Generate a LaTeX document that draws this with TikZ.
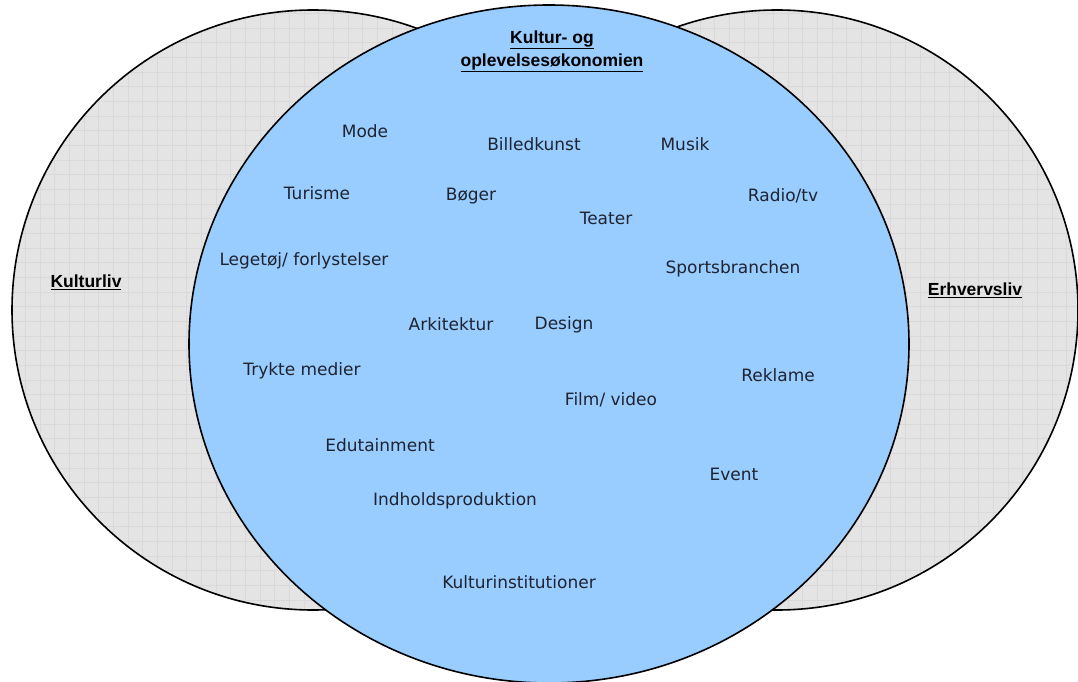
\documentclass[tikz,border=0pt]{standalone}
\usepackage{fontspec}
\setmainfont{DejaVu Sans}
\newfontfamily\headfont{Liberation Sans}
\definecolor{sidegray}{HTML}{E4E4E4}
\definecolor{gridgray}{HTML}{D9D9D9}
\definecolor{coreblue}{HTML}{99CCFF}
\definecolor{labelink}{HTML}{1E2430}
\tikzset{
  item/.style={text=labelink,inner sep=0pt,font=\fontsize{17}{20}\selectfont},
  heading/.style={text=black,inner sep=0pt,align=center,font=\headfont\bfseries\fontsize{17.5}{23}\selectfont},
  rim/.style={draw=black,line width=1.6pt}
}
\begin{document}
\begin{tikzpicture}[x=1pt,y=-1pt]
\useasboundingbox (0,0) rectangle (1078,682);
\foreach \cx in {313,777}
{ \begin{scope}
  \clip (\cx,310) ellipse [x radius=301,y radius=300];
  \fill[sidegray] (0,0) rectangle (1078,682);
  \foreach \i in {-6,...,68} \draw[gridgray,line width=0.9pt] ({84+14.67*\i},0)--++(0,682);
  \foreach \i in {-3,...,44} \draw[gridgray,line width=0.9pt] (0,{42.7+14.67*\i})--++(1078,0);
  \end{scope}
  \draw[rim] (\cx,310) ellipse [x radius=301,y radius=300];
}
\draw[rim,fill=coreblue] (549,344) ellipse [x radius=360,y radius=339];
\node[heading] (kulturliv) at (86,282) {\underline{Kulturliv}};
\node[heading] (erhvervsliv) at (975,290) {\underline{Erhvervsliv}};
\node[heading] (oplevelse) at (552,51) {\underline{Kultur- og}\\\underline{oplevelsesøkonomien}};
\foreach \x/\y/\n/\t in {365/131/mode/{Mode},534/144/billedkunst/{Billedkunst},685/144/musik/{Musik},
  317/193/turisme/{Turisme},471/196/boger/{Bøger},606/218/teater/{Teater},783/196/radio/{Radio/tv},
  304/261/legetoj/{Legetøj/ forlystelser},733/269/sport/{Sportsbranchen},451/324/arkitektur/{Arkitektur},
  564/325/design/{Design},302/371/trykte/{Trykte medier},778/375/reklame/{Reklame},611/400/film/{Film/ video},
  380/445/edutainment/{Edutainment},734/474/event/{Event},455/501/indhold/{Indholdsproduktion},
  519/582/institutioner/{Kulturinstitutioner}}
{ \node[item] (\n) at (\x,\y) {\t};
}
\end{tikzpicture}
\end{document}
